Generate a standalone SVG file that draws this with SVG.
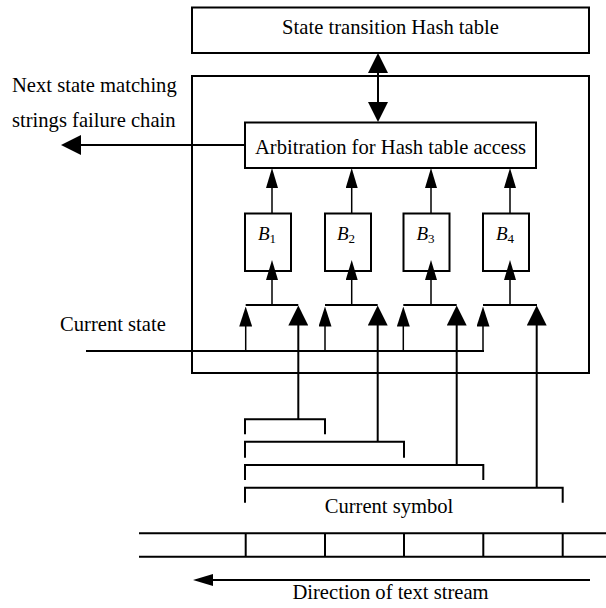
<svg xmlns="http://www.w3.org/2000/svg" width="606" height="608" viewBox="0 0 606 608">
<style>
text{font-family:"Liberation Serif","Times New Roman",serif;font-size:20.6px;fill:#000}
.c{text-anchor:middle}
.box{fill:#fff;stroke:#000;stroke-width:2}
.ln{fill:none;stroke:#000;stroke-width:2}
.th{fill:none;stroke:#000;stroke-width:1.5}
.bt{font-style:italic;font-size:19px}
.sub{font-style:normal;font-size:13px}
</style>
<defs>
<marker id="big" viewBox="0 0 20 20" refX="2" refY="10" markerWidth="20" markerHeight="20" markerUnits="userSpaceOnUse" orient="auto-start-reverse"><path d="M0,0 L20,10 L0,20 z" fill="#000"/></marker>
<marker id="sm" viewBox="0 0 20 12" refX="2" refY="6" markerWidth="20" markerHeight="12" markerUnits="userSpaceOnUse" orient="auto"><path d="M0,0 L20,6 L0,12 z" fill="#000"/></marker>
<marker id="sm13" viewBox="0 0 20 13" refX="2" refY="6.5" markerWidth="20" markerHeight="13" markerUnits="userSpaceOnUse" orient="auto"><path d="M0,0 L20,6.5 L0,13 z" fill="#000"/></marker>
</defs>
<rect width="606" height="608" fill="#fff"/>
<g id="outer"><rect class="box" x="192" y="76" width="397" height="297"/></g>
<g id="hashtable"><rect class="box" x="192" y="7.5" width="397" height="45.5"/><text class="c" x="390.5" y="33.5">State transition Hash table</text></g>
<g id="arbitration"><rect class="box" x="245" y="122.5" width="291" height="45.5"/><text class="c" x="390.5" y="154">Arbitration for Hash table access</text></g>
<g id="B1"><rect class="box" x="245" y="213.5" width="46" height="57.5"/><text class="bt" x="258" y="239.5">B<tspan class="sub" dy="3">1</tspan></text></g>
<g id="B2"><rect class="box" x="325" y="213.5" width="46" height="57.5"/><text class="bt" x="337" y="239.5">B<tspan class="sub" dy="3">2</tspan></text></g>
<g id="B3"><rect class="box" x="403.5" y="213.5" width="46" height="57.5"/><text class="bt" x="416.5" y="239.5">B<tspan class="sub" dy="3">3</tspan></text></g>
<g id="B4"><rect class="box" x="483" y="213.5" width="46" height="57.5"/><text class="bt" x="496" y="239.5">B<tspan class="sub" dy="3">4</tspan></text></g>
<g id="labels">
<text x="12" y="92">Next state matching</text>
<text x="12" y="127">strings failure chain</text>
<text x="60" y="330.5">Current state</text>
<text class="c" x="389" y="513">Current symbol</text>
<text class="c" x="390.5" y="599">Direction of text stream</text>
</g>
<g id="connectors">
<line class="ln" x1="378" y1="71" x2="378" y2="104" stroke-width="2.5" marker-start="url(#big)" marker-end="url(#big)"/>
<line class="ln" x1="245" y1="145" x2="79" y2="145" marker-end="url(#big)"/>
<line class="th" x1="272" y1="213.5" x2="272" y2="186" marker-end="url(#sm)"/>
<line class="th" x1="351.7" y1="213.5" x2="351.7" y2="186" marker-end="url(#sm)"/>
<line class="th" x1="431" y1="213.5" x2="431" y2="186" marker-end="url(#sm)"/>
<line class="th" x1="510" y1="213.5" x2="510" y2="186" marker-end="url(#sm)"/>
<line class="th" x1="272" y1="305" x2="272" y2="278" marker-end="url(#sm)"/>
<line class="th" x1="351.7" y1="305" x2="351.7" y2="278" marker-end="url(#sm)"/>
<line class="th" x1="431" y1="305" x2="431" y2="278" marker-end="url(#sm)"/>
<line class="th" x1="510" y1="305" x2="510" y2="278" marker-end="url(#sm)"/>
<path class="ln" d="M245.7,305 H298.3 M325,305 H377.7 M403.3,305 H456.7 M483,305 H537"/>
<line class="th" x1="245.7" y1="351" x2="245.7" y2="324.5" marker-end="url(#sm13)"/>
<line class="th" x1="325" y1="351" x2="325" y2="324.5" marker-end="url(#sm13)"/>
<line class="th" x1="403.3" y1="351" x2="403.3" y2="324.5" marker-end="url(#sm13)"/>
<line class="th" x1="483" y1="351" x2="483" y2="324.5" marker-end="url(#sm13)"/>
<line class="ln" x1="86" y1="351" x2="484" y2="351"/>
<line class="ln" x1="298.3" y1="419.3" x2="298.3" y2="323.5" marker-end="url(#big)"/>
<line class="ln" x1="377.7" y1="441.7" x2="377.7" y2="323.5" marker-end="url(#big)"/>
<line class="ln" x1="456.7" y1="465" x2="456.7" y2="323.5" marker-end="url(#big)"/>
<line class="ln" x1="536.7" y1="487.7" x2="536.7" y2="323.5" marker-end="url(#big)"/>
<path class="ln" d="M245,434.3 V419.3 H325 V434.3 M245,457.7 V441.7 H404 V457.7 M245,480 V465 H483.3 V480 M245,502.7 V487.7 H562.7 V502.7"/>
<path class="ln" d="M139,533.3 H606 M139,556.7 H606 M245.7,533.3 V556.7 M325,533.3 V556.7 M404,533.3 V556.7 M483.3,533.3 V556.7 M562.7,533.3 V556.7"/>
<line class="ln" x1="590" y1="580" x2="211" y2="580" marker-end="url(#sm)"/>
</g>
</svg>
